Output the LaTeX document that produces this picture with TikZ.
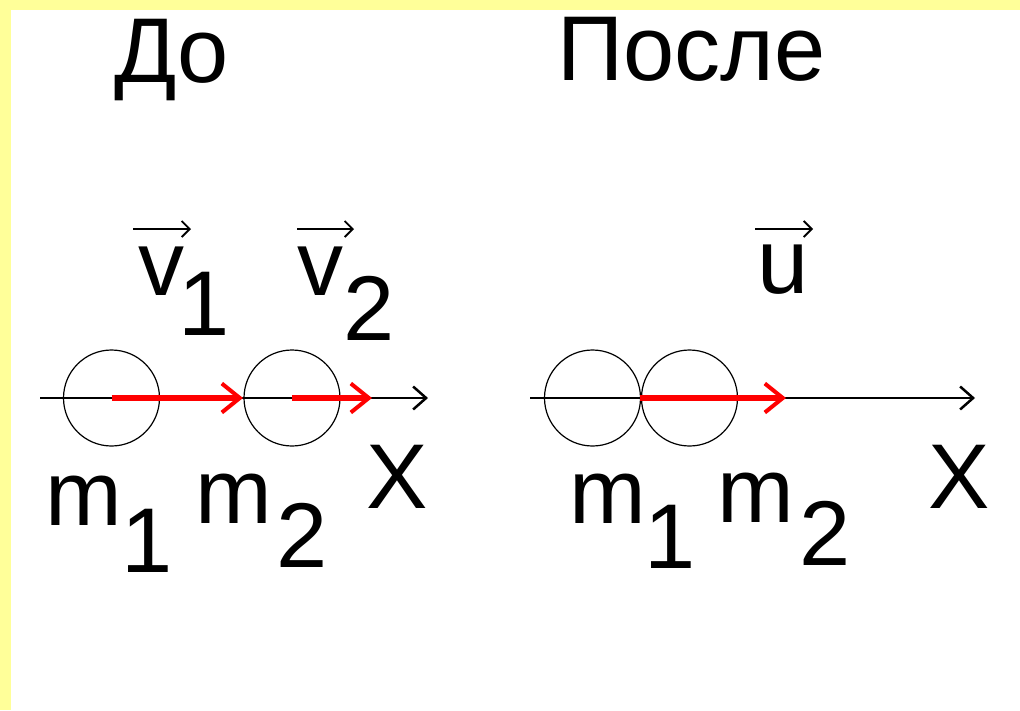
\documentclass[tikz,border=0pt]{standalone}
\usepackage{fontspec}
\setmainfont{Liberation Sans}
\usetikzlibrary{arrows.meta}
\definecolor{bgyellow}{HTML}{FFFF99}
\definecolor{vred}{HTML}{FF0000}
\tikzset{
  lbl/.style={anchor=base,inner sep=0pt,outer sep=0pt,font=\fontsize{92}{100}\selectfont},
  ball/.style={circle,draw=black,line width=1.2pt,minimum size=96pt,inner sep=0pt},
  axis/.style={line width=1.5pt,-{Straight Barb[length=13pt,width=23pt,line width=2.5pt]}},
  vel/.style={draw=vred,line width=6pt,-{Straight Barb[length=18pt,width=29pt,line width=4pt]}},
  vecbar/.style={line width=1.8pt,-{Straight Barb[length=8pt,width=16pt,line width=1.8pt]}}
}
\begin{document}
\begin{tikzpicture}[x=1pt,y=-1pt]
\fill[bgyellow] (0,0) rectangle (1020,710);
\fill[white] (11,9.5) rectangle (1020,710);
\useasboundingbox (0,0) rectangle (1020,710);
% titles
\node[lbl] (before) at (171.5,82) {До};
\node[lbl] (after) at (691.5,80) {После};
% axes
\coordinate (axLs) at (40,398);
\coordinate (axLe) at (428,398);
\coordinate (axRs) at (530,398);
\coordinate (axRe) at (975,398);
\draw[axis] (axLs) -- (axLe);
\draw[axis] (axRs) -- (axRe);
% balls
\node[ball] (b1) at (111.5,398) {};
\node[ball] (b2) at (292,398) {};
\node[ball] (b3) at (592.5,398) {};
\node[ball] (b4) at (689.5,398) {};
% velocity arrows
\coordinate (t1) at (243,398);
\coordinate (t2) at (372,398);
\coordinate (t3) at (786,398);
\coordinate (s3) at (640,398);
\draw[vel] (b1.center) -- (t1);
\draw[vel] (b2.center) -- (t2);
\draw[vel] (s3) -- (t3);
% velocity labels
\node[lbl] (v1) at (161,295) {v};
\node[lbl] (v1i) at (204,335) {1};
\node[lbl] (v2) at (320,295) {v};
\node[lbl] (v2i) at (369.5,340) {2};
\node[lbl] (u) at (783,293) {u};
\coordinate (v1a) at (133,229);
\coordinate (v1b) at (191,229);
\coordinate (v2a) at (297,229);
\coordinate (v2b) at (354,229);
\coordinate (ua) at (755,229);
\coordinate (ub) at (813,229);
\draw[vecbar] (v1a) -- (v1b);
\draw[vecbar] (v2a) -- (v2b);
\draw[vecbar] (ua) -- (ub);
% mass labels
\node[lbl] (mL1) at (84,525) {m};
\node[lbl] (mL1i) at (147,572) {1};
\node[lbl] (mL2) at (233.5,523) {m};
\node[lbl] (mL2i) at (302.5,567) {2};
\node[lbl] (mR1) at (607.5,523) {m};
\node[lbl] (mR1i) at (670,568) {1};
\node[lbl] (mR2) at (755.5,522) {m};
\node[lbl] (mR2i) at (825,565) {2};
% axis labels
\node[lbl] (xL) at (397.5,508) {X};
\node[lbl] (xR) at (959.5,508) {X};
\end{tikzpicture}
\end{document}
